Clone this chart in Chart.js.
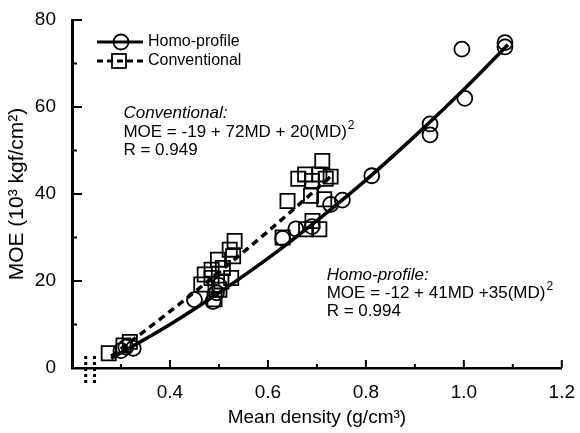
<!DOCTYPE html>
<html>
<head>
<meta charset="utf-8">
<script src="https://cdn.jsdelivr.net/npm/chart.js@4"></script>
<style>
  html, body { margin: 0; padding: 0; background: #fff; }
</style>
</head>
<body>
<canvas id="moeChart" width="580" height="433"></canvas>
<script>
const homoDensity = [0.300, 0.310, 0.325, 0.450, 0.488, 0.495, 0.500, 0.630, 0.657, 0.690, 0.728, 0.752, 0.812, 0.931, 0.931, 0.996, 1.002, 1.084, 1.084];
const homoMOE     = [4.0, 4.8, 4.5, 15.7, 15.3, 17.3, 19.0, 29.8, 32.0, 32.5, 37.6, 38.6, 44.2, 56.1, 53.6, 73.3, 62.0, 74.8, 73.8];

const convDensity = [0.275, 0.305, 0.318, 0.464, 0.471, 0.485, 0.485, 0.491, 0.498, 0.501, 0.505, 0.508, 0.522, 0.525, 0.529, 0.532,
                     0.630, 0.640, 0.662, 0.676, 0.678, 0.688, 0.690, 0.691, 0.705, 0.705, 0.711, 0.715, 0.718, 0.728];
const convMOE     = [3.4, 5.2, 6.0, 19.2, 21.5, 22.6, 20.7, 15.8, 24.9, 18.0, 19.9, 23.0, 27.2, 20.7, 25.7, 29.2,
                     30.0, 38.4, 43.5, 44.5, 31.9, 39.6, 43.0, 33.8, 44.5, 31.9, 47.6, 38.8, 43.5, 44.0];

// fitted curves
const homoFitDensity = [0.28, 0.4, 0.5, 0.6, 0.7, 0.8, 0.9, 1.0, 1.09];
const homoFitMOE     = [2.2, 10.0, 17.3, 25.2, 33.9, 43.2, 53.3, 64.0, 74.3];
const convFitDensity = [0.28, 0.4, 0.5, 0.6, 0.7, 0.73];
const convFitMOE     = [2.7, 13.0, 22.0, 31.4, 41.2, 44.2];

// axis ticks
const xMajorTicks = [0.4, 0.6, 0.8, 1.0, 1.2];
const xMinorTicks = [0.3, 0.5, 0.7, 0.9, 1.1];
const yMajorTicks = [20, 40, 60, 80];
const yMinorTicks = [10, 30, 50, 70];
const axisBreaks  = [0.228, 0.246];

const FONT = "'Liberation Sans', Arial, Helvetica, sans-serif";

function toPoints(xs, ys) {
    return xs.map((x, i) => ({ x: x, y: ys[i] }));
}

function drawSup(ctx, x, y, main, sup, italic) {
    ctx.font = `${italic ? "italic " : ""}17px ${FONT}`;
    ctx.fillText(main, x, y);
    if (!sup) return;
    const w = ctx.measureText(main).width;
    ctx.font = `12px ${FONT}`;
    ctx.fillText(sup, x + w + 1, y - 8);
}

const decorations = {
    id: "decorations",
    afterDraw(chart) {
        const ctx = chart.ctx;
        const xs = chart.scales.x;
        const ys = chart.scales.y;
        const area = chart.chartArea;
        ctx.save();
        ctx.strokeStyle = "#000";
        ctx.fillStyle = "#000";

        // inward tick marks
        ctx.lineWidth = 2;
        ctx.beginPath();
        xMajorTicks.forEach((v) => {
            const px = xs.getPixelForValue(v);
            ctx.moveTo(px, area.bottom);
            ctx.lineTo(px, area.bottom - 8);
        });
        xMinorTicks.forEach((v) => {
            const px = xs.getPixelForValue(v);
            ctx.moveTo(px, area.bottom);
            ctx.lineTo(px, area.bottom - 4);
        });
        yMajorTicks.forEach((v) => {
            const py = ys.getPixelForValue(v);
            ctx.moveTo(area.left, py);
            ctx.lineTo(area.left + 10, py);
        });
        yMinorTicks.forEach((v) => {
            const py = ys.getPixelForValue(v);
            ctx.moveTo(area.left, py);
            ctx.lineTo(area.left + 5, py);
        });
        ctx.stroke();

        // axis break marks
        ctx.lineWidth = 3;
        ctx.setLineDash([3, 3]);
        ctx.beginPath();
        axisBreaks.forEach((v) => {
            const px = xs.getPixelForValue(v);
            ctx.moveTo(px, area.bottom - 12);
            ctx.lineTo(px, area.bottom + 18);
        });
        ctx.stroke();
        ctx.setLineDash([]);

        // legend
        const lx0 = area.left + 25;
        const lx1 = area.left + 71;
        const row1 = area.top + 22;
        const row2 = area.top + 41;
        ctx.lineWidth = 3;
        ctx.beginPath();
        ctx.moveTo(lx0, row1);
        ctx.lineTo(lx1, row1);
        ctx.stroke();
        ctx.lineWidth = 1.8;
        ctx.beginPath();
        ctx.arc(area.left + 49, row1, 7.5, 0, Math.PI * 2);
        ctx.stroke();

        ctx.lineWidth = 3;
        ctx.setLineDash([6, 4]);
        ctx.beginPath();
        ctx.moveTo(lx0, row2);
        ctx.lineTo(lx1, row2);
        ctx.stroke();
        ctx.setLineDash([]);
        ctx.lineWidth = 1.8;
        ctx.strokeRect(area.left + 40, row2 - 7, 14, 14);

        ctx.textBaseline = "middle";
        ctx.font = `16px ${FONT}`;
        ctx.fillText("Homo-profile", area.left + 76, row1);
        ctx.fillText("Conventional", area.left + 76, row2);

        // regression annotations
        ctx.textBaseline = "alphabetic";
        const cx = xs.getPixelForValue(0.305);
        drawSup(ctx, cx, 118, "Conventional:", null, true);
        drawSup(ctx, cx, 137, "MOE = -19 + 72MD + 20(MD)", "2", false);
        drawSup(ctx, cx, 155, "R = 0.949", null, false);

        const hx = xs.getPixelForValue(0.72);
        drawSup(ctx, hx, 280, "Homo-profile:", null, true);
        drawSup(ctx, hx, 298, "MOE = -12 + 41MD +35(MD)", "2", false);
        drawSup(ctx, hx, 316, "R = 0.994", null, false);

        ctx.restore();
    },
};

function createMoeChart(canvasId) {
    const ctx = document.getElementById(canvasId).getContext("2d");
    new Chart(ctx, {
        type: "scatter",
        data: {
            datasets: [
                {
                    label: "Homo-profile fit",
                    data: toPoints(homoFitDensity, homoFitMOE),
                    showLine: true,
                    borderColor: "#000",
                    borderWidth: 3.5,
                    pointRadius: 0,
                    cubicInterpolationMode: "monotone",
                },
                {
                    label: "Conventional fit",
                    data: toPoints(convFitDensity, convFitMOE),
                    showLine: true,
                    borderColor: "#000",
                    borderWidth: 3.5,
                    borderDash: [7, 5],
                    pointRadius: 0,
                    cubicInterpolationMode: "monotone",
                },
                {
                    label: "Homo-profile",
                    data: toPoints(homoDensity, homoMOE),
                    pointStyle: "circle",
                    pointRadius: 7.5,
                    borderColor: "#000",
                    borderWidth: 1.8,
                    backgroundColor: "rgba(0,0,0,0)",
                },
                {
                    label: "Conventional",
                    data: toPoints(convDensity, convMOE),
                    pointStyle: "rect",
                    pointRadius: 10,
                    borderColor: "#000",
                    borderWidth: 1.8,
                    backgroundColor: "rgba(0,0,0,0)",
                },
            ],
        },
        options: {
            responsive: false,
            animation: false,
            layout: {
                padding: { top: 20, right: 17, left: 0, bottom: 0 },
            },
            plugins: {
                legend: { display: false },
                tooltip: { enabled: false },
            },
            scales: {
                x: {
                    type: "linear",
                    min: 0.2,
                    max: 1.2,
                    afterFit: (scale) => { scale.height = 65; },
                    grid: { display: false },
                    border: { display: true, color: "#000", width: 2.5 },
                    ticks: {
                        stepSize: 0.2,
                        color: "#000",
                        padding: 5,
                        font: { family: FONT, size: 19 },
                        callback: (v) => (v < 0.3 ? "" : Number(v).toFixed(1)),
                    },
                    title: {
                        display: true,
                        text: "Mean density (g/cm³)",
                        color: "#000",
                        font: { family: FONT, size: 19 },
                        padding: { top: 0, bottom: 4 },
                    },
                },
                y: {
                    type: "linear",
                    min: 0,
                    max: 80,
                    afterFit: (scale) => { scale.width = 72; },
                    grid: { display: false },
                    border: { display: true, color: "#000", width: 3 },
                    ticks: {
                        stepSize: 20,
                        color: "#000",
                        padding: 8,
                        font: { family: FONT, size: 19 },
                    },
                    title: {
                        display: true,
                        text: "MOE (10³ kgf/cm²)",
                        color: "#000",
                        font: { family: FONT, size: 21 },
                        padding: { top: 5, bottom: 0 },
                    },
                },
            },
        },
        plugins: [decorations],
    });
}

createMoeChart("moeChart");
</script>
</body>
</html>
